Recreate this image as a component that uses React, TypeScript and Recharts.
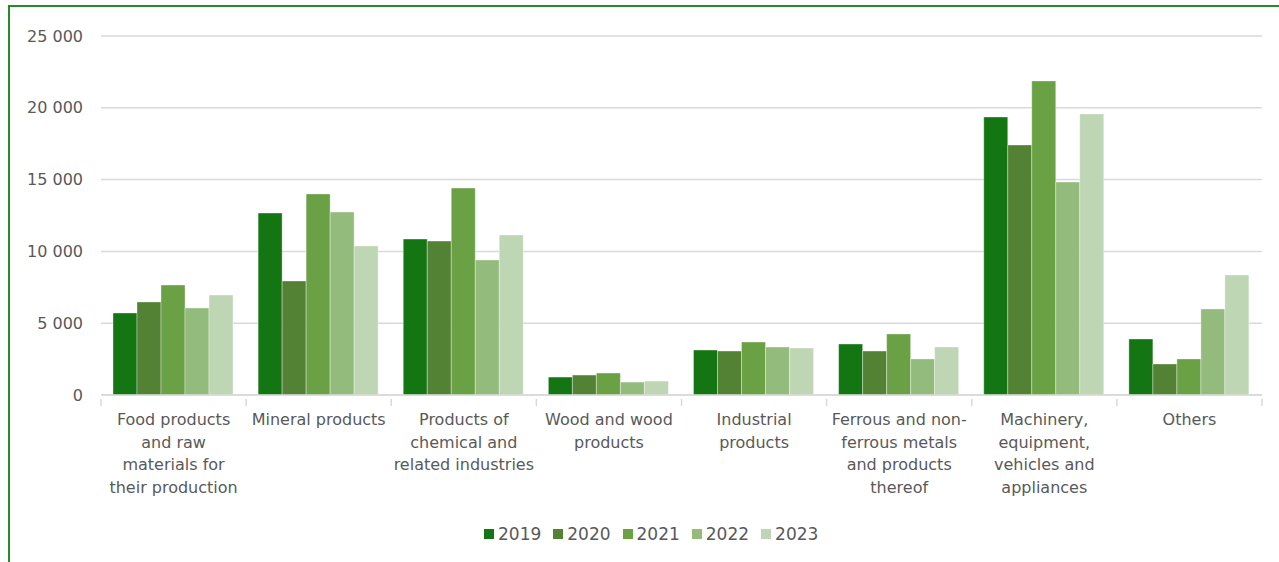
import React from "react";
import { BarChart, Bar, XAxis, YAxis, CartesianGrid } from "recharts";

const categories = [
  "Food products\nand raw\nmaterials for\ntheir production",
  "Mineral products",
  "Products of\nchemical and\nrelated industries",
  "Wood and wood\nproducts",
  "Industrial\nproducts",
  "Ferrous and non-\nferrous metals\nand products\nthereof",
  "Machinery,\nequipment,\nvehicles and\nappliances",
  "Others",
];
const years = ["2019", "2020", "2021", "2022", "2023"];
const v2019 = [5710, 12670, 10860, 1250, 3130, 3550, 19360, 3900];
const v2020 = [6480, 7940, 10720, 1390, 3060, 3060, 17410, 2160];
const v2021 = [7660, 14000, 14410, 1530, 3690, 4250, 21870, 2510];
const v2022 = [6060, 12740, 9400, 900, 3340, 2510, 14830, 5990];
const v2023 = [6960, 10380, 11140, 970, 3270, 3340, 19570, 8360];
const yTicks = [0, 5000, 10000, 15000, 20000, 25000];
const colors = ["#137613", "#548235", "#6aa145", "#93bb7b", "#bed6b3"];

const series = [v2019, v2020, v2021, v2022, v2023];
const data = categories.map((c, i) => {
  const row: any = { name: c };
  years.forEach((y, k) => (row[y] = series[k][i]));
  return row;
});

const FONT = "'DejaVu Sans', Verdana, sans-serif";
const TEXT = "#595959";
const fmt = (v: number) => String(v).replace(/\B(?=(\d{3})+(?!\d))/g, " ");

const BAND = (1262 - 101) / categories.length;

const XTick = (props: any) => {
  const { x, y, payload, index } = props;
  const lines = String(payload.value).split("\n");
  return (
    <g>
      <line x1={x - BAND / 2} x2={x - BAND / 2} y1={y - 4} y2={y + 3} stroke="#d9d9d9" strokeWidth={1.5} />
      {index === categories.length - 1 && (
        <line x1={x + BAND / 2} x2={x + BAND / 2} y1={y - 4} y2={y + 3} stroke="#d9d9d9" strokeWidth={1.5} />
      )}
      <text x={x} y={y + 22} textAnchor="middle" fill={TEXT} fontSize={16} fontFamily={FONT}>
        {lines.map((l, i) => (
          <tspan key={i} x={x} dy={i === 0 ? 0 : 22.6}>
            {l}
          </tspan>
        ))}
      </text>
    </g>
  );
};

export default function App() {
  return (
    <div style={{ position: "absolute", left: 0, top: 0, width: 1279, height: 562, background: "#fff" }}>
      <div
        style={{
          position: "absolute",
          left: 8,
          top: 5,
          width: 1271,
          height: 557,
          borderTop: "2px solid #2a8a2a",
          borderLeft: "2px solid #2a8a2a",
          boxSizing: "border-box",
        }}
      />
      <div style={{ position: "absolute", left: 0, top: 0 }}>
        <BarChart
          width={1279}
          height={562}
          data={data}
          margin={{ top: 36, right: 17, bottom: 0, left: 0 }}
          barCategoryGap={12}
          barGap={0}
        >
          <CartesianGrid vertical={false} stroke="#d9d9d9" strokeWidth={1.5} />
          <XAxis
            dataKey="name"
            axisLine={{ stroke: "#d9d9d9", strokeWidth: 1.5 }}
            tickLine={false}
            interval={0}
            height={167}
            tick={<XTick />}
          />
          <YAxis
            width={101}
            domain={[0, 25000]}
            ticks={yTicks}
            axisLine={false}
            tickLine={false}
            tickSize={0}
            tickMargin={18}
            tickFormatter={fmt}
            tick={{ fill: TEXT, fontSize: 16, fontFamily: FONT }}
          />
          {years.map((y, k) => (
            <Bar
              key={y}
              dataKey={y}
              fill={colors[k]}
              stroke="#ffffff"
              strokeOpacity={0.35}
              strokeWidth={1}
              isAnimationActive={false}
            />
          ))}
        </BarChart>
      </div>
      <div
        style={{
          position: "absolute",
          left: 484,
          top: 524,
          display: "flex",
          alignItems: "center",
          fontFamily: FONT,
          fontSize: 17,
          color: TEXT,
        }}
      >
        {years.map((y, k) => (
          <div key={y} style={{ display: "flex", alignItems: "center", marginRight: 12 }}>
            <div style={{ width: 10, height: 10, background: colors[k], marginRight: 4 }} />
            <span>{y}</span>
          </div>
        ))}
      </div>
    </div>
  );
}
